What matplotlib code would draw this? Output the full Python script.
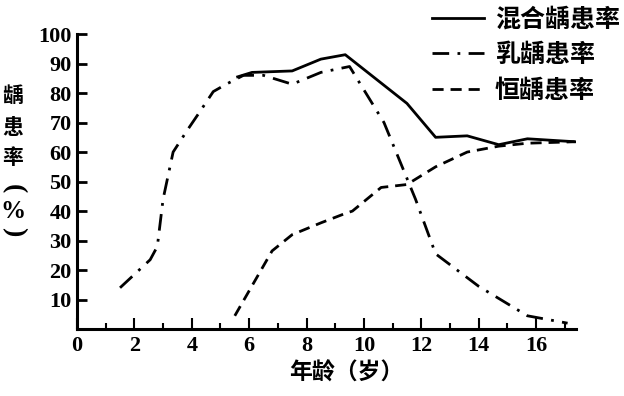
import matplotlib
matplotlib.use("Agg")
import matplotlib.pyplot as plt
from matplotlib.ticker import MultipleLocator

# Data
mixed_age = [5.6, 6.1, 7.5, 8.5, 9.35, 11.5, 12.5, 13.6, 14.7, 15.7, 17.35]
mixed_rate = [85.5, 87, 87.5, 91.5, 93, 76.5, 65, 65.5, 62.5, 64.5, 63.5]

primary_age = [1.5, 2.55, 2.8, 3.0, 3.35, 3.85, 4.2, 4.75, 5.2, 5.8, 6.5,
               7.5, 8.5, 9.5, 10.7, 11.8, 12.5, 14.0, 15.7, 17.1]
primary_rate = [14, 23.5, 28, 44, 60, 67.5, 72.5, 80.5, 83, 86, 86,
                83, 87, 89, 70, 44, 25.5, 14.5, 4.5, 2]

permanent_age = [5.5, 6.8, 7.5, 8.5, 9.3, 9.6, 10.6, 11.5, 12.5, 13.6, 14.7, 15.7, 17.35]
permanent_rate = [4.5, 26.5, 32, 36, 39, 40, 48, 49, 55, 60, 62, 63, 63.5]

labels = ["混合龋患率", "乳龋患率", "恒龋患率"]
x_ticks = [0, 2, 4, 6, 8, 10, 12, 14, 16]
y_ticks = [10, 20, 30, 40, 50, 60, 70, 80, 90, 100]

cjk = ["Noto Sans CJK SC", "DejaVu Sans"]
num_font = "Liberation Serif"

fig = plt.figure(figsize=(6.24, 3.96), dpi=100, facecolor="white")
ax = fig.add_axes([0.1234, 0.169, 0.800, 0.745])

lw = 2.0
ax.plot(mixed_age, mixed_rate, color="black", lw=lw, ls="-", label=labels[0])
ax.plot(primary_age, primary_rate, color="black", lw=lw, ls=(0, (6, 3, 1, 3)),
        label=labels[1])
ax.plot(permanent_age, permanent_rate, color="black", lw=lw, ls=(0, (4, 2.5)),
        label=labels[2])

ax.set_xlim(0, 17.4)
ax.set_ylim(0, 100)

for side in ["top", "right"]:
    ax.spines[side].set_visible(False)
for side in ["left", "bottom"]:
    ax.spines[side].set_linewidth(2.2)

ax.set_xticks(x_ticks)
ax.set_yticks(y_ticks)
ax.xaxis.set_minor_locator(MultipleLocator(1))
ax.tick_params(axis="x", which="major", direction="in", length=8, width=1.5, pad=5)
ax.tick_params(axis="x", which="minor", direction="in", length=4, width=1.5)
ax.tick_params(axis="y", which="major", direction="in", length=7, width=2, pad=4)
for lab in ax.get_xticklabels() + ax.get_yticklabels():
    lab.set_fontfamily(num_font)
    lab.set_fontweight("bold")
    lab.set_fontsize(16)

ax.set_xlabel("年龄（岁）", fontfamily=cjk, fontsize=16.5, fontweight="bold",
              labelpad=4, x=0.539)

# vertical y label, one glyph per row; brackets turned sideways
ylab_parts = ["龋", "患", "率", "(", "%", ")"]
ylab_rows = [96, 127, 158, 189, 211, 232]
ylab_rot = [0, 0, 0, -90, 0, -90]
for part, row, rot in zip(ylab_parts, ylab_rows, ylab_rot):
    if part in "()":
        fam, size = num_font, 20
    elif part == "%":
        fam, size = num_font, 18
    else:
        fam, size = cjk, 15
    fig.text(13 / 624, 1 - row / 396, part, fontfamily=fam, fontsize=size,
             fontweight="bold", ha="center", va="center", rotation=rot)

leg = ax.legend(loc="upper left", bbox_to_anchor=(0.673, 1.012), bbox_transform=fig.transFigure,
                frameon=False, borderpad=0, handlelength=2.05, handletextpad=0.45,
                labelspacing=0.46, prop={"family": cjk, "size": 18, "weight": "bold"})

fig.savefig("out.png", dpi=100, facecolor="white")
